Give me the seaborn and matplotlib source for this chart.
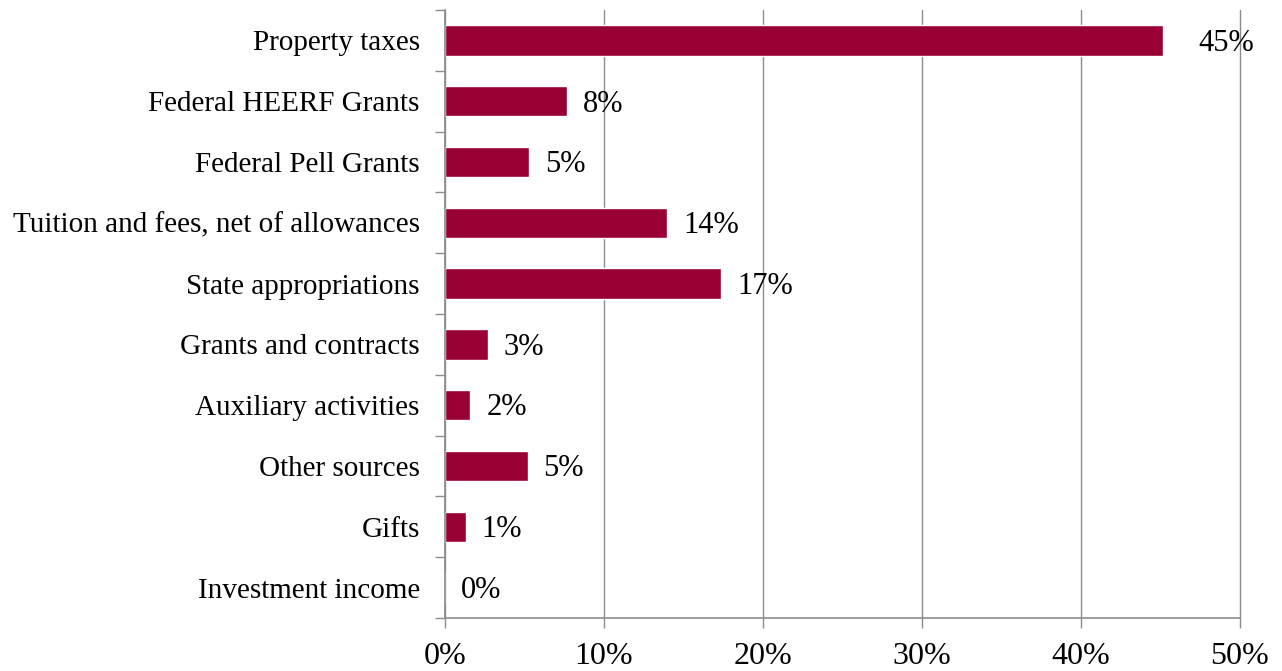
import matplotlib
matplotlib.use("Agg")
import matplotlib.pyplot as plt
import seaborn as sns
import pandas as pd
import numpy as np
from matplotlib.ticker import FuncFormatter, FixedLocator

# 数据
categories = [
    "Property taxes",
    "Federal HEERF Grants",
    "Federal Pell Grants",
    "Tuition and fees, net of allowances",
    "State appropriations",
    "Grants and contracts",
    "Auxiliary activities",
    "Other sources",
    "Gifts",
    "Investment income",
]
shares = [45.2, 7.7, 5.3, 14.0, 17.4, 2.7, 1.6, 5.2, 1.3, 0.0]

df = pd.DataFrame({"source": categories, "share": shares})

sns.set_theme(style="white")
plt.rcParams["font.family"] = ["Liberation Serif", "DejaVu Serif"]
plt.rcParams["text.color"] = "black"

fig = plt.figure(figsize=(12.82, 6.71), dpi=100)
ax = fig.add_axes([0.347, 0.079, 0.62, 0.906])

sns.barplot(data=df, x="share", y="source", orient="h", color="#990033",
            width=0.5, saturation=1, ax=ax)

ax.set_xlim(0, 50)
ax.set_ylim(len(categories) - 0.5, -0.5)
ax.set_xticks(np.arange(0, 51, 10))
ax.xaxis.set_major_formatter(FuncFormatter(lambda v, p: f"{v:.0f}%"))
ax.grid(axis="x", color="#8c8c8c", linewidth=1)
for gl in ax.get_xgridlines():
    gl.set_clip_on(False)
ax.set_axisbelow(True)
ax.set_xlabel("")
ax.set_ylabel("")

for s in ["top", "right"]:
    ax.spines[s].set_visible(False)
for s in ["left", "bottom"]:
    ax.spines[s].set_color("#8c8c8c")
    ax.spines[s].set_linewidth(1.2)

ax.tick_params(axis="x", labelsize=23, colors="#8c8c8c", labelcolor="black",
               length=7, width=1, bottom=True, direction="out", pad=10)
ax.tick_params(axis="y", which="major", length=0, labelsize=21, pad=18,
               labelcolor="black")
ax.yaxis.set_minor_locator(FixedLocator(np.arange(-0.5, len(categories), 1)))
ax.tick_params(axis="y", which="minor", left=True, length=7, width=1,
               color="#8c8c8c", direction="out")

# 数据标签
for i, v in enumerate(shares):
    pad = 25 if i == 0 else 11.5
    ax.annotate(f"{v:.0f}%", xy=(v, i), xytext=(pad, -2), textcoords="offset points",
                va="center", ha="left", fontsize=22, color="black")

fig.savefig("out.png", dpi=100)
